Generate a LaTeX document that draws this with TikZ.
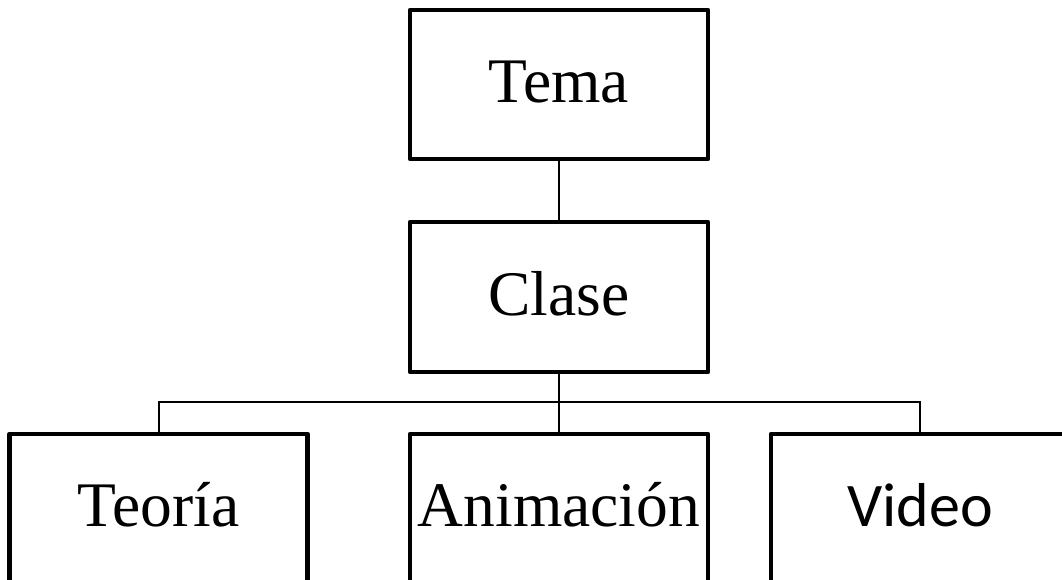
\documentclass[tikz,border=0pt]{standalone}
\usepackage{fontspec}
\setmainfont{Liberation Serif}
\newfontfamily\calibrifont{Carlito}
\begin{document}
\begin{tikzpicture}[x=1pt,y=1pt,
  box/.style={draw, line width=4.5pt, line join=round, minimum width=298pt, minimum height=149pt,
    inner sep=0pt, outer sep=0pt, font=\fontsize{63.5}{72}\selectfont, text height=42pt, text depth=6pt},
  link/.style={draw, line width=2pt}]
\clip (0,0) rectangle (1062,-579);
\fill[white] (0,0) rectangle (1062,-579);
\node[box] (tema) at (559,-84.5) {Tema};
\node[box, minimum height=150pt] (clase) at (559,-297) {Clase};
\node[box] (teoria) at (158.5,-508.5) {Teoría};
\node[box] (anim) at (559,-508.5) {Animación};
\node[box, font=\calibrifont\fontsize{62}{72}\selectfont] (video) at (920,-508.5) {Video};
\draw[link] (tema.south) -- (clase.north);
\draw[link] (clase.south) -- ++(0,-30) coordinate (bar);
\draw[link] (teoria.north) |- (bar) -| (video.north);
\draw[link] (bar) -- (anim.north);
\end{tikzpicture}
\end{document}
